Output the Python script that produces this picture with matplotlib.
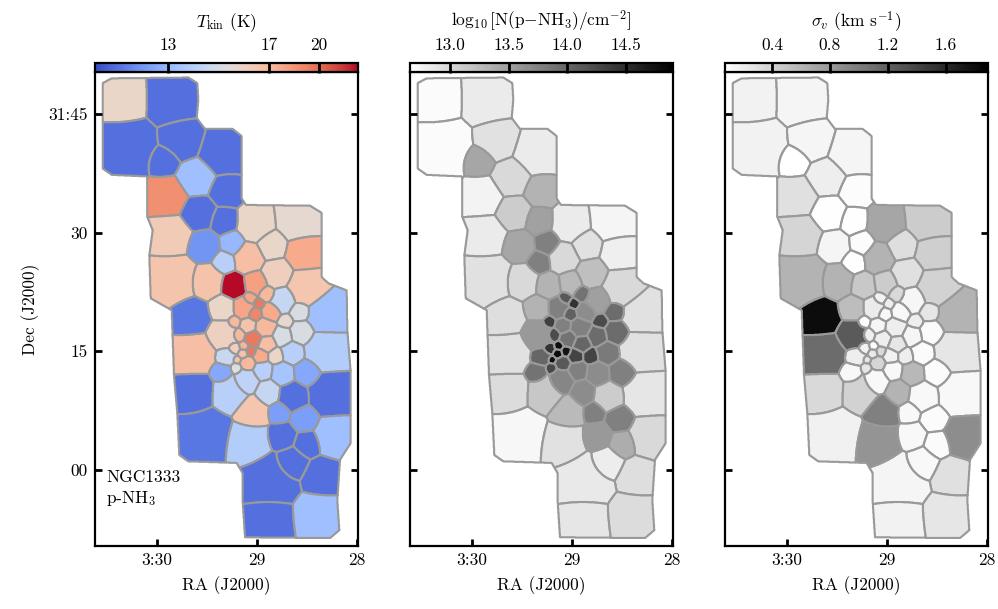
import numpy as np
import matplotlib
matplotlib.use("Agg")
import matplotlib.pyplot as plt
from matplotlib.collections import PolyCollection
from matplotlib.colors import FuncNorm, Normalize
from matplotlib.cm import ScalarMappable
from matplotlib.path import Path
import contourpy

plt.rcParams['font.family'] = ['cmr10', 'DejaVu Serif']
plt.rcParams['mathtext.fontset'] = 'cm'
plt.rcParams['axes.formatter.use_mathtext'] = True
plt.rcParams['axes.unicode_minus'] = False

# Bin centres: RA minutes past 3h, Dec arcmin past 31 deg, bin radius in arcmin
cell_ra = [30.34,29.84,30.29,29.75,29.93,29.36,29.61,29.90,29.31,29.58,29.33,29.01,28.59,29.87,29.53,29.25,28.85,28.53,29.33,29.08,29.85,29.50,29.24,29.01,28.80,28.50,28.74,28.29,
           29.35,29.14,29.07,28.98,28.90,29.02,28.86,28.71,28.57,29.23,29.09,28.92,28.74,28.55,29.35,29.18,29.04,28.90,29.23,29.13,29.06,29.14,28.96,28.81,28.64,29.32,29.20,29.09,29.21,29.36,28.94,28.74,28.50,
           28.30,28.27,29.64,29.67,29.63,29.27,29.11,28.89,28.64,29.05,28.78,28.53,28.24,29.52,29.09,28.75,28.50,28.65,28.36,28.89,28.89,28.40]
cell_dec = [46.8,46.8,40.7,41.7,39.0,40.1,37.0,34.6,35.3,32.5,31.5,31.1,31.5,29.6,28.3,28.7,28.4,27.5,26.3,26.9,24.0,23.8,23.3,23.7,24.9,23.1,21.5,19.6,
            20.4,20.5,21.7,21.0,22.3,19.7,20.0,18.8,20.0,18.7,18.2,18.0,16.9,17.4,17.1,17.1,16.6,15.9,15.4,15.7,15.0,14.7,14.4,14.4,14.8,14.3,13.9,13.4,12.8,12.3,12.5,12.1,12.3,
            15.2,9.6,14.8,19.3,9.6,9.5,11.1,9.7,9.2,7.2,7.2,6.4,4.2,4.4,3.4,4.2,3.2,0.9,-0.9,-1.5,-6.3,-5.8]
cell_radius = [2.75,3.0,3.3,2.6,1.9,2.75,2.35,2.45,2.0,2.1,1.7,2.3,2.6,2.5,1.9,1.5,1.85,2.2,1.35,1.85,2.95,2.0,1.5,1.4,1.8,2.3,1.5,2.5,
               1.55,1.25,0.7,0.6,0.9,0.77,1.05,0.8,1.15,0.72,0.93,1.1,1.1,1.4,1.8,0.72,0.97,0.97,0.63,0.5,0.55,0.5,0.85,0.88,1.3,1.1,0.4,0.8,0.6,1.2,1.1,1.35,1.5,
               2.5,2.45,2.5,2.3,2.4,2.2,1.5,1.5,1.8,2.1,1.35,1.6,2.3,3.2,2.75,1.8,1.7,2.1,2.3,3.4,3.0,2.75]
tkin = [15.6,11.6,11.6,11.6,11.6,11.6,13.2,18.7,11.6,11.6,11.6,15.6,15.4,16.2,12.2,13.0,15.6,17.6,13.8,16.8,16.5,16.6,23.2,18.0,16.0,16.4,14.2,13.2,
        15.6,17.8,17.8,19.5,17.0,19.0,17.6,15.4,14.8,17.0,16.6,17.0,14.8,14.8,15.9,17.0,19.5,16.8,16.0,17.2,19.5,16.6,17.6,15.6,13.8,14.3,16.6,17.0,15.0,12.6,13.8,13.35,12.6,
        13.7,11.6,16.8,11.7,11.6,13.8,14.0,14.2,11.6,16.4,12.4,12.4,13.2,11.7,13.7,11.6,11.6,11.6,11.6,11.6,11.6,13.2]
log_n = [12.70,12.84,12.70,12.93,13.44,12.84,13.00,12.77,13.33,13.11,13.49,12.84,12.75,12.84,13.44,13.78,12.93,12.80,13.78,13.00,12.93,13.00,13.33,13.28,13.22,13.00,13.50,12.93,
         13.33,13.78,14.12,14.45,13.89,14.05,13.67,14.23,13.95,14.34,13.78,13.78,13.95,13.95,13.56,14.23,13.89,14.00,14.45,14.78,14.72,14.78,14.30,14.30,13.83,14.00,14.78,14.12,14.27,13.89,13.78,13.67,13.78,
         12.93,12.88,12.93,12.95,12.97,13.15,13.72,13.67,13.11,13.27,13.78,13.78,13.00,12.73,12.93,13.56,13.38,12.82,12.95,12.86,12.88,12.97]
sigma_v = [.17,.15,.17,.15,.08,.15,.20,.30,.10,.09,.09,.71,.44,.38,.15,.10,.31,.42,.09,.62,.62,.62,.47,.44,.30,.40,.14,.62,
           .55,.22,.17,.20,.35,.13,.13,.20,.26,.08,.15,.20,.15,.11,1.25,.20,.20,.26,.17,.11,.35,.22,.17,.20,.11,.20,.26,.38,.26,.13,.13,.58,.11,
           .26,.13,1.12,1.80,.35,.40,.13,.62,.13,.98,.13,.11,.89,.18,.84,.13,.11,.13,.30,.15,.17,.26]

# Mapped footprint outline
edge_ra = [30.543,30.453,29.687,29.597,29.587,29.603,29.52,29.243,29.153,29.153,29.11,28.47,28.353,28.353,28.287,28.103,28.097,28.063,28.063,28.17,28.197,28.177,28.27,29.12,29.143,29.143,29.203,29.687,29.777,29.797,29.83,29.853,30.063,30.077,30.043,30.097,30.097,30.453,30.543]
edge_dec = [48.9,49.5,49.6,48.9,46.8,44.5,43.1,43.1,42.2,34.3,33.5,33.4,32.5,24.4,23.6,22.7,17.7,12.4,3.4,1.3,-3.8,-7.6,-8.6,-8.5,-4.0,-0.4,0.9,1.1,1.9,7.2,12.0,20.2,21.7,27.1,30.3,32.0,37.1,37.3,38.1]

ra_ticks = [30.0 - 0.0, 29.0, 28.0]
ra_labels = ['3:30', '29', '28']
dec_ticks = [45, 30, 15, 0]
dec_labels = ['31:45', '30', '15', '00']

W, H = 998, 609
fig = plt.figure(figsize=(W / 100, H / 100), dpi=100)


def rect(l, t, r, b):
    return [l / W, 1 - b / H, (r - l) / W, (b - t) / H]


# Weighted Voronoi tessellation of the footprint
XLIM = (30.62, 27.99)
YLIM = (-9.6, 50.3)
gx = np.linspace(XLIM[0], XLIM[1], 800)
gy = np.linspace(YLIM[0], YLIM[1], 1440)
GX, GY = np.meshgrid(gx, gy)
ra_a, dec_a, rad_a = map(np.asarray, (cell_ra, cell_dec, cell_radius))
dist = np.stack([np.hypot((GX - a) * 12.64, GY - d) / r for a, d, r in zip(ra_a, dec_a, rad_a)])
labels = dist.argmin(axis=0)
del dist
inside = Path(np.column_stack([edge_ra, edge_dec])).contains_points(
    np.column_stack([GX.ravel(), GY.ravel()])).reshape(GX.shape)
labels[~inside] = -1

verts = []
keep = []
for i in range(len(cell_ra)):
    z = (labels == i).astype(float)
    lines = contourpy.contour_generator(gx, gy, z).lines(0.5)
    if lines:
        verts.append(max(lines, key=len))
        keep.append(i)
keep = np.array(keep)

panels = [
    (95, 358, np.array(tkin), 'coolwarm',
     FuncNorm((lambda t: -1.0 / t, lambda v: -1.0 / v), vmin=11.1, vmax=23.3),
     [13, 17, 20], ['13', '17', '20'], r'$T_{\rm kin}$ (K)'),
    (410, 673, np.array(log_n), 'gray_r', Normalize(12.66, 14.9),
     [13.0, 13.5, 14.0, 14.5], ['13.0', '13.5', '14.0', '14.5'],
     r'$\log_{10}[{\rm N(p{\mathrm{-}}NH_3)/cm^{-2}}]$'),
    (725, 988, np.array(sigma_v), 'gray_r', Normalize(0.076, 1.89),
     [0.4, 0.8, 1.2, 1.6], ['0.4', '0.8', '1.2', '1.6'],
     r'$\sigma_v$ (km s$^{-1}$)'),
]

for n, (l, r, vals, cmap, norm, cticks, clabels, ctitle) in enumerate(panels):
    ax = fig.add_axes(rect(l, 72, r, 546))
    pc = PolyCollection(verts, array=vals[keep], cmap=cmap, norm=norm,
                        edgecolors='#999999', linewidths=1.5)
    ax.add_collection(pc)
    ax.set_xlim(*XLIM)
    ax.set_ylim(*YLIM)
    ax.set_xticks(ra_ticks, ['3:30', '29', '28'])
    ax.tick_params(axis='both', direction='in', length=5, width=2, labelsize=12.5,
                   top=False, right=True, pad=5)
    ax.set_xlabel('RA (J2000)', fontsize=12.5, labelpad=6)
    ax.set_yticks(dec_ticks)
    if n == 0:
        ax.set_yticklabels(dec_labels)
        ax.set_ylabel('Dec (J2000)', fontsize=12.5, labelpad=6)
        ax.text(30.51, -2.4, 'NGC1333\np-NH$_3$', fontsize=12.5, ha='left', va='center',
                linespacing=1.3)
    else:
        ax.set_yticklabels([])
    for s in ax.spines.values():
        s.set_linewidth(1.6)

    cax = fig.add_axes(rect(l, 63, r, 72))
    cb = fig.colorbar(ScalarMappable(norm=norm, cmap=cmap), cax=cax, orientation='horizontal')
    cb.set_ticks(cticks, labels=clabels)
    cb.minorticks_off()
    cax.xaxis.set_ticks_position('top')
    cax.xaxis.set_label_position('top')
    cax.tick_params(axis='x', direction='in', length=7, width=2, labelsize=12.5, pad=7)
    cb.outline.set_linewidth(1.6)
    cb.set_label(ctitle, fontsize=12.5, labelpad=8)

fig.savefig('out.png', dpi=100)
